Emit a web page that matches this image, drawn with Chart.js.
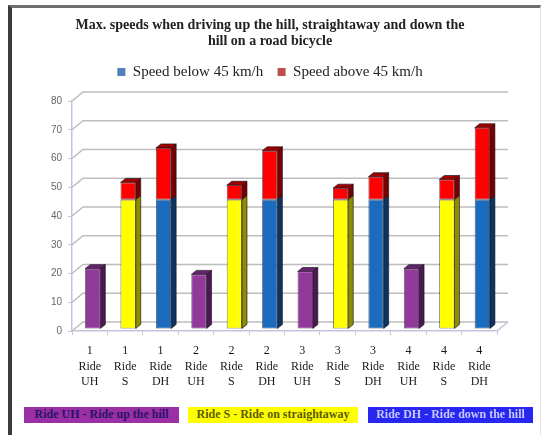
<!DOCTYPE html>
<html>
<head>
<meta charset="utf-8">
<script src="https://cdn.jsdelivr.net/npm/chart.js@4/dist/chart.umd.min.js"></script>
<style>
  html, body { margin: 0; padding: 0; background: #fff; }
  #wrap { position: relative; width: 546px; height: 435px; overflow: hidden; background: #fff; }
  #c { position: absolute; left: 0; top: 0; }
  #frame { position: absolute; left: 8px; top: 5px; right: 5px; bottom: -10px;
           border-left: 4px solid #3c3c3c; border-top: 3px solid #6e6e6e; border-right: 1px solid #e2e2e2;
           pointer-events: none; }
  .key { position: absolute; top: 407px; height: 16px; line-height: 16px; white-space: nowrap;
         font: bold 12px 'Liberation Serif', 'Times New Roman', serif; text-align: center; overflow: hidden; }
</style>
</head>
<body>
<div id="wrap">
  <canvas id="c" width="546" height="435"></canvas>
  <div class="key" style="left:24px;width:155px;background:#9a2fa6;color:#2a1466;">Ride UH - Ride up the hill</div>
  <div class="key" style="left:188px;width:170px;background:#ffff00;color:#5c5a00;">Ride S - Ride on straightaway</div>
  <div class="key" style="left:368px;width:165px;background:#2727ef;color:#c9c9ff;">Ride DH - Ride down the hill</div>
  <div id="frame"></div>
</div>
<script>
// Ride number, "Ride", ride type (UH = up the hill, S = straightaway, DH = down the hill)
const categories = [
  ['1', 'Ride', 'UH'], ['1', 'Ride', 'S'], ['1', 'Ride', 'DH'],
  ['2', 'Ride', 'UH'], ['2', 'Ride', 'S'], ['2', 'Ride', 'DH'],
  ['3', 'Ride', 'UH'], ['3', 'Ride', 'S'], ['3', 'Ride', 'DH'],
  ['4', 'Ride', 'UH'], ['4', 'Ride', 'S'], ['4', 'Ride', 'DH']
];
// Max. speed in km/h, split at 45 km/h
const speedBelow45 = [21, 45, 45, 19, 45, 45, 20, 45, 45, 21, 45, 45];
const speedAbove45 = [0, 6, 18, 0, 5, 17, 0, 4, 8, 0, 7, 25];
const seriesNames = ['Speed below 45 km/h', 'Speed above 45 km/h'];
const titleLines = ['Max. speeds when driving up the hill, straightaway and down the', 'hill on a road bicycle'];
const yMax = 80;
const yStep = 10;

// Face colours of the 3-D columns per ride type
const typeColors = {
  UH: { front: '#923a9c', side: '#4b1853', top: '#65226f' },
  S:  { front: '#ffff00', side: '#8e8c00', top: '#bdbb00' },
  DH: { front: '#1b6cbf', side: '#0b3461', top: '#124f8d' }
};
const aboveColors = { front: '#ff0000', side: '#780000', top: '#9a0000' };
const legendColors = ['#4f81bd', '#c0504d'];

const faceSets = [categories.map(c => typeColors[c[2]]), categories.map(() => aboveColors)];

// Perspective offsets of the box (walls) and of the column depth
const WALL = { dx: 11, dy: 9 };
const BAR = { dx: 5, dy: 4 };
const SHIFT = { x: 3, y: -2 };

const box3d = {
  id: 'box3d',
  beforeInit(chart, args, opts) {
    const legend = chart.legend;
    if (legend) {
      const fit = legend.fit;
      legend.fit = function () { fit.call(this); this.height += opts.gapBelowLegend; };
    }
  },
  beforeDatasetsDraw(chart) {
    const { ctx, chartArea: { left, right, bottom }, scales: { y } } = chart;
    ctx.save();
    ctx.strokeStyle = '#bdbdbd';
    ctx.lineWidth = 1.6;
    y.ticks.forEach(t => {
      const py = y.getPixelForValue(t.value);
      ctx.beginPath();
      ctx.moveTo(left, py);
      ctx.lineTo(left + WALL.dx, py - WALL.dy);
      ctx.lineTo(right + WALL.dx, py - WALL.dy);
      ctx.stroke();
    });
    ctx.strokeStyle = '#c9c1dc';
    ctx.beginPath();
    ctx.moveTo(right, bottom);
    ctx.lineTo(right + WALL.dx, bottom - WALL.dy);
    ctx.stroke();
    ctx.restore();
    ctx.save();
    ctx.translate(SHIFT.x, SHIFT.y);
  },
  afterDatasetDraw(chart, args) {
    const { ctx } = chart;
    const di = args.index;
    const sets = chart.data.datasets;
    args.meta.data.forEach((el, i) => {
      const v = sets[di].data[i];
      if (!v) return;
      const { x, y, base, width } = el.getProps(['x', 'y', 'base', 'width'], true);
      const l = x - width / 2, r = x + width / 2;
      const c = faceSets[di][i];
      ctx.save();
      ctx.lineWidth = 0.8;
      ctx.strokeStyle = 'rgba(20,10,20,0.75)';
      // right side face
      ctx.beginPath();
      ctx.moveTo(r, y); ctx.lineTo(r + BAR.dx, y - BAR.dy);
      ctx.lineTo(r + BAR.dx, base - BAR.dy); ctx.lineTo(r, base); ctx.closePath();
      ctx.fillStyle = c.side; ctx.fill(); ctx.stroke();
      // top face only on the highest segment of the stack
      let topIdx = -1;
      sets.forEach((s, k) => { if (s.data[i]) topIdx = k; });
      if (topIdx === di) {
        ctx.beginPath();
        ctx.moveTo(l, y); ctx.lineTo(l + BAR.dx, y - BAR.dy);
        ctx.lineTo(r + BAR.dx, y - BAR.dy); ctx.lineTo(r, y); ctx.closePath();
        ctx.fillStyle = c.top; ctx.fill(); ctx.stroke();
      }
      ctx.restore();
    });
  },
  afterDatasetsDraw(chart) {
    chart.ctx.restore();
  }
};

const axisColor = '#c9c1dc';

new Chart(document.getElementById('c'), {
  type: 'bar',
  data: {
    labels: categories,
    datasets: [
      { label: seriesNames[0], data: speedBelow45, backgroundColor: faceSets[0].map(c => c.front) },
      { label: seriesNames[1], data: speedAbove45, backgroundColor: faceSets[1].map(c => c.front) }
    ].map(d => Object.assign(d, {
      borderColor: 'rgba(20,10,20,0.75)', borderWidth: 0.8, borderSkipped: false,
      categoryPercentage: 1, barPercentage: 0.43, clip: false
    }))
  },
  options: {
    responsive: false,
    devicePixelRatio: 1,
    animation: false,
    layout: { padding: { left: 43, right: 49, top: 0, bottom: 0 } },
    scales: {
      x: {
        stacked: true,
        afterFit: s => { s.height = 104; },
        grid: { offset: true, drawOnChartArea: false, drawTicks: true, tickLength: 4, color: axisColor },
        border: { display: true, color: axisColor, width: 1.5 },
        ticks: {
          color: '#1a1a1a', padding: 8, maxRotation: 0, autoSkip: false,
          font: { family: "'Liberation Serif', 'Times New Roman', serif", size: 12, lineHeight: 1.3 }
        }
      },
      y: {
        stacked: true,
        min: 0, max: yMax,
        afterFit: s => { s.width = 29; },
        grid: { drawOnChartArea: false, drawTicks: true, tickLength: 4, color: axisColor },
        border: { display: true, color: axisColor, width: 1.5 },
        ticks: {
          stepSize: yStep, color: '#666', padding: 6,
          font: { family: "'Liberation Sans', Arial, sans-serif", size: 10 }
        }
      }
    },
    plugins: {
      box3d: { gapBelowLegend: 11.5 },
      tooltip: { enabled: false },
      title: {
        display: true,
        text: titleLines,
        color: '#222',
        font: { family: "'Liberation Serif', 'Times New Roman', serif", size: 14, weight: 'bold', lineHeight: 1.2 },
        padding: { top: 16.6, bottom: 0 }
      },
      legend: {
        display: true,
        position: 'top',
        labels: {
          color: '#222',
          font: { family: "'Liberation Serif', 'Times New Roman', serif", size: 15 },
          boxWidth: 8, boxHeight: 8, padding: 14.3,
          generateLabels: chart => chart.data.datasets.map((d, i) => ({
            text: d.label, fillStyle: legendColors[i], strokeStyle: legendColors[i],
            lineWidth: 0, hidden: false, datasetIndex: i, fontColor: '#222'
          }))
        }
      }
    }
  },
  plugins: [box3d]
});
</script>
</body>
</html>
